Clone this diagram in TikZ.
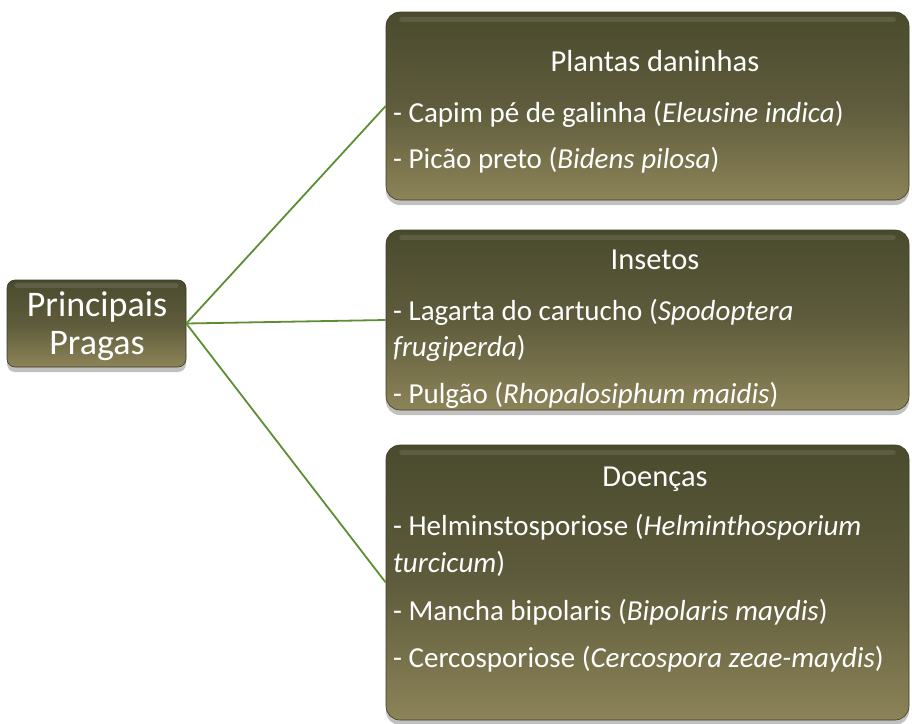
\documentclass[tikz,border=0pt]{standalone}
\usepackage{fontspec}
\setmainfont{Carlito}
\usetikzlibrary{shadows}
\definecolor{olivetop}{HTML}{4A4A2D}
\definecolor{olivemid}{HTML}{5E5C3C}
\definecolor{olivebot}{HTML}{8C8358}
\definecolor{linkgreen}{HTML}{5C8E34}
\tikzset{
  panel/.style={rectangle, rounded corners=14pt, top color=olivetop, bottom color=olivebot, middle color=olivemid,
    draw=olivetop!80!black, line width=0.6pt,
    drop shadow={shadow xshift=0pt, shadow yshift=-5pt, opacity=0.35, fill=black!70}},
  hilite/.style={white, opacity=0.10, line width=5pt, line cap=round},
  link/.style={draw=linkgreen, line width=1.8pt},
  ttl/.style={text=white, font=\fontsize{30.5}{36}\selectfont, anchor=mid},
  itm/.style={text=white, font=\fontsize{29}{34}\selectfont, anchor=mid west, inner sep=0pt},
  root/.style={text=white, font=\fontsize{36}{42}\selectfont, anchor=mid},
}
\begin{document}
\begin{tikzpicture}[x=1pt,y=-1pt]
\useasboundingbox (0,0) rectangle (912,723);
% boxes
\node[panel, minimum width=179pt, minimum height=87pt, rounded corners=8pt] (root) at (96.5,323.5) {};
\node[panel, minimum width=523pt, minimum height=188pt] (b1) at (647.5,106) {};
\node[panel, minimum width=523pt, minimum height=180pt] (b2) at (647.5,320) {};
\node[panel, minimum width=523pt, minimum height=275pt] (b3) at (647.5,582.5) {};
% highlights
\draw[hilite] ([shift={(10pt,-6pt)}]root.north west) -- ([shift={(-10pt,-6pt)}]root.north east);
\draw[hilite] ([shift={(16pt,-8pt)}]b1.north west) -- ([shift={(-16pt,-8pt)}]b1.north east);
\draw[hilite] ([shift={(16pt,-8pt)}]b2.north west) -- ([shift={(-16pt,-8pt)}]b2.north east);
\draw[hilite] ([shift={(16pt,-8pt)}]b3.north west) -- ([shift={(-16pt,-8pt)}]b3.north east);
% connectors
\path[link] (root.east) -- (b1.west);
\path[link] (root.east) -- (b2.west);
\path[link] (root.east) -- (b3.west);
% root text
\node[root] (r1) at (97,314) {Principais};
\node[root] (r2) at (97,352) {Pragas};
% box 1
\node[ttl] (t1) at (655,69) {Plantas daninhas};
\node[itm] (i11) at (393,120) {- Capim pé de galinha (\textit{Eleusine indica})};
\node[itm] (i12) at (393,166) {- Picão preto (\textit{Bidens pilosa})};
% box 2
\node[ttl] (t2) at (655,267) {Insetos};
\node[itm] (i21) at (393,318) {- Lagarta do cartucho (\textit{Spodoptera}};
\node[itm] (i22) at (393,354) {\textit{frugiperda})};
\node[itm] (i23) at (393,401) {- Pulgão (\textit{Rhopalosiphum maidis})};
% box 3
\node[ttl] (t3) at (655,484) {Doenças};
\node[itm] (i31) at (393,533) {- Helminstosporiose (\textit{Helminthosporium}};
\node[itm] (i32) at (393,570) {\textit{turcicum})};
\node[itm] (i33) at (393,618) {- Mancha bipolaris (\textit{Bipolaris maydis})};
\node[itm] (i34) at (393,665) {- Cercosporiose (\textit{Cercospora zeae-maydis})};
\end{tikzpicture}
\end{document}
